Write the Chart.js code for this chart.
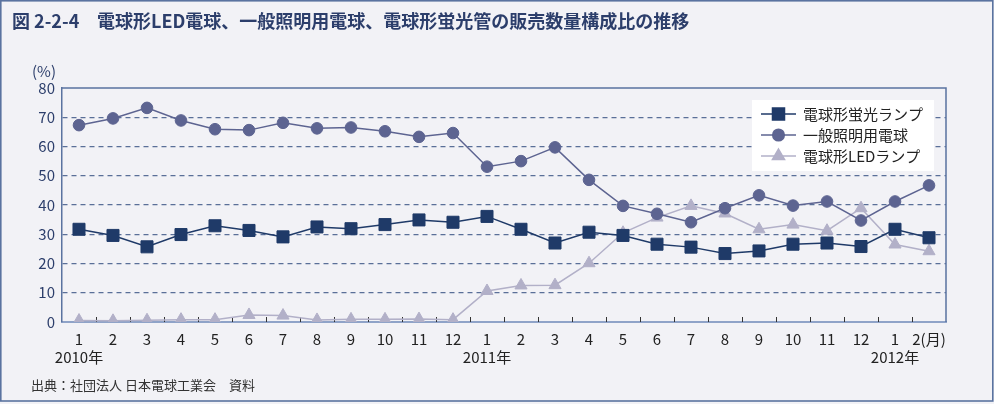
<!DOCTYPE html>
<html>
<head>
<meta charset="UTF-8">
<title>販売数量構成比の推移</title>
<script src="https://cdn.jsdelivr.net/npm/chart.js@4"></script>
<style>
  html, body { margin: 0; padding: 0; background: #f2f2f6; }
  #wrap { position: relative; width: 994px; height: 404px; }
</style>
</head>
<body>
<div id="wrap"><canvas id="c" width="994" height="404"></canvas></div>
<script>
// 月ラベル (2010年1月 〜 2012年2月)
const months = ['1','2','3','4','5','6','7','8','9','10','11','12',
                '1','2','3','4','5','6','7','8','9','10','11','12',
                '1','2(月)'];
const yearLabels = ['2010年', '2011年', '2012年'];
const yearIndex = [0, 12, 24];
const seriesNames = ['電球形蛍光ランプ', '一般照明用電球', '電球形LEDランプ'];

// 構成比 (%)
const cfl = [31.7, 29.6, 25.7, 29.9, 32.9, 31.3, 29.1, 32.5, 31.9, 33.3, 34.9, 34.1,
             36.1, 31.7, 27.0, 30.7, 29.6, 26.6, 25.6, 23.4, 24.3, 26.6, 27.0, 25.8,
             31.7, 28.8];
const incandescent = [67.3, 69.6, 73.2, 68.9, 65.9, 65.6, 68.1, 66.2, 66.5, 65.2, 63.3, 64.6,
                      53.1, 55.0, 59.7, 48.6, 39.7, 37.0, 34.1, 38.9, 43.3, 39.8, 41.2, 34.7,
                      41.2, 46.7];
const led = [0.5, 0.4, 0.6, 0.8, 0.8, 2.4, 2.2, 0.7, 0.9, 0.9, 1.0, 0.8,
             10.6, 12.5, 12.6, 20.1, 30.5, 35.7, 39.7, 37.1, 31.7, 33.3, 31.2, 38.9,
             26.5, 24.2];
const yTicks = [0, 10, 20, 30, 40, 50, 60, 70, 80];

const FONT = '"Noto Sans CJK JP", "Noto Sans", sans-serif';
const NAVY = '#2c3e6b';
const FRAME = '#5a73a0';
const colors = ['#1f3a68', '#5d6491', '#b2b0c8'];
const styles = [
  { pointStyle: 'rect', radius: 8.5 },
  { pointStyle: 'circle', radius: 5.8 },
  { pointStyle: 'triangle', radius: 7 }
];

// 枠・タイトル・出典・目盛・年・凡例
const decorations = {
  id: 'decorations',
  beforeDraw(chart) {
    const ctx = chart.ctx;
    ctx.save();
    ctx.fillStyle = '#f2f2f6';
    ctx.fillRect(0, 0, chart.width, chart.height);
    ctx.strokeStyle = FRAME;
    ctx.lineWidth = 1.6;
    ctx.strokeRect(0.8, 0.8, 992, 400.2);

    ctx.fillStyle = NAVY;
    ctx.font = 'bold 18px ' + FONT;
    ctx.textBaseline = 'middle';
    ctx.fillText('図 2-2-4', 12, 21);
    ctx.fillText('電球形LED電球、一般照明用電球、電球形蛍光管の販売数量構成比の推移', 97, 21);

    ctx.font = '15px ' + FONT;
    ctx.textAlign = 'center';
    ctx.fillText('(%)', 44, 71);

    ctx.fillStyle = '#333';
    ctx.font = '13px ' + FONT;
    ctx.textAlign = 'left';
    ctx.fillText('出典：社団法人 日本電球工業会　資料', 31, 385);
    ctx.restore();
  },
  beforeDatasetsDraw(chart) {
    const ctx = chart.ctx;
    const a = chart.chartArea;
    const x = chart.scales.x;
    const step = x.getPixelForValue(1) - x.getPixelForValue(0);
    ctx.save();
    ctx.strokeStyle = '#333';
    ctx.lineWidth = 1;
    for (let i = 1; i < months.length; i++) {
      const px = Math.round(x.getPixelForValue(i) - step / 2) + 0.5;
      ctx.beginPath();
      ctx.moveTo(px, a.bottom);
      ctx.lineTo(px, a.bottom - 5);
      ctx.stroke();
    }
    ctx.strokeStyle = FRAME;
    ctx.lineWidth = 1.5;
    ctx.beginPath();
    ctx.moveTo(a.left, a.top);
    ctx.lineTo(a.right, a.top);
    ctx.lineTo(a.right, a.bottom);
    ctx.stroke();
    ctx.restore();
  },
  afterDraw(chart) {
    const ctx = chart.ctx;
    const x = chart.scales.x;
    ctx.save();
    ctx.fillStyle = '#222';
    ctx.font = '15px ' + FONT;
    ctx.textAlign = 'center';
    ctx.textBaseline = 'middle';
    yearLabels.forEach((t, i) => ctx.fillText(t, x.getPixelForValue(yearIndex[i]), 357));

    // 凡例
    ctx.fillStyle = '#ffffff';
    ctx.fillRect(752, 100, 182, 71);
    const rows = [114, 135, 156];
    seriesNames.forEach((name, i) => {
      const y = rows[i];
      ctx.strokeStyle = colors[i];
      ctx.fillStyle = colors[i];
      ctx.lineWidth = 1.5;
      ctx.beginPath();
      ctx.moveTo(761, y);
      ctx.lineTo(796, y);
      ctx.stroke();
      Chart.helpers.drawPoint(ctx, { pointStyle: styles[i].pointStyle, radius: styles[i].radius, borderWidth: 1, rotation: 0 }, 778.5, y);
      ctx.fillStyle = '#222';
      ctx.font = '15px ' + FONT;
      ctx.textAlign = 'left';
      ctx.fillText(name, 803, y);
    });
    ctx.restore();
  }
};

const datasets = [cfl, incandescent, led].map((data, i) => ({
  label: seriesNames[i],
  data,
  borderColor: colors[i],
  backgroundColor: colors[i],
  borderWidth: 1.5,
  pointStyle: styles[i].pointStyle,
  pointRadius: styles[i].radius,
  pointBorderWidth: 1,
  pointBackgroundColor: colors[i],
  pointBorderColor: colors[i],
  tension: 0
}));

new Chart(document.getElementById('c'), {
  type: 'line',
  data: { labels: months, datasets },
  options: {
    responsive: false,
    animation: false,
    layout: { padding: { left: 0, top: 88, right: 48, bottom: 0 } },
    plugins: { legend: { display: false }, tooltip: { enabled: false } },
    scales: {
      x: {
        offset: true,
        grid: { display: false, drawTicks: false },
        border: { display: true, color: '#8fa3c8', width: 2 },
        ticks: { color: '#222', font: { size: 15, family: FONT }, padding: 8, maxRotation: 0, autoSkip: false },
        afterFit: s => { s.height = 82; }
      },
      y: {
        min: 0,
        max: 80,
        afterBuildTicks: s => { s.ticks = yTicks.map(v => ({ value: v })); },
        grid: {
          drawTicks: false,
          lineWidth: 1.2,
          color: c => (c.tick.value === 0 || c.tick.value === 80) ? 'transparent' : '#5a6f98'
        },
        border: { display: true, color: FRAME, width: 1.5, dash: [5, 4] },
        ticks: { color: NAVY, font: { size: 15, family: FONT }, padding: 7 },
        afterFit: s => { s.width = 62; }
      }
    }
  },
  plugins: [decorations]
});
</script>
</body>
</html>
